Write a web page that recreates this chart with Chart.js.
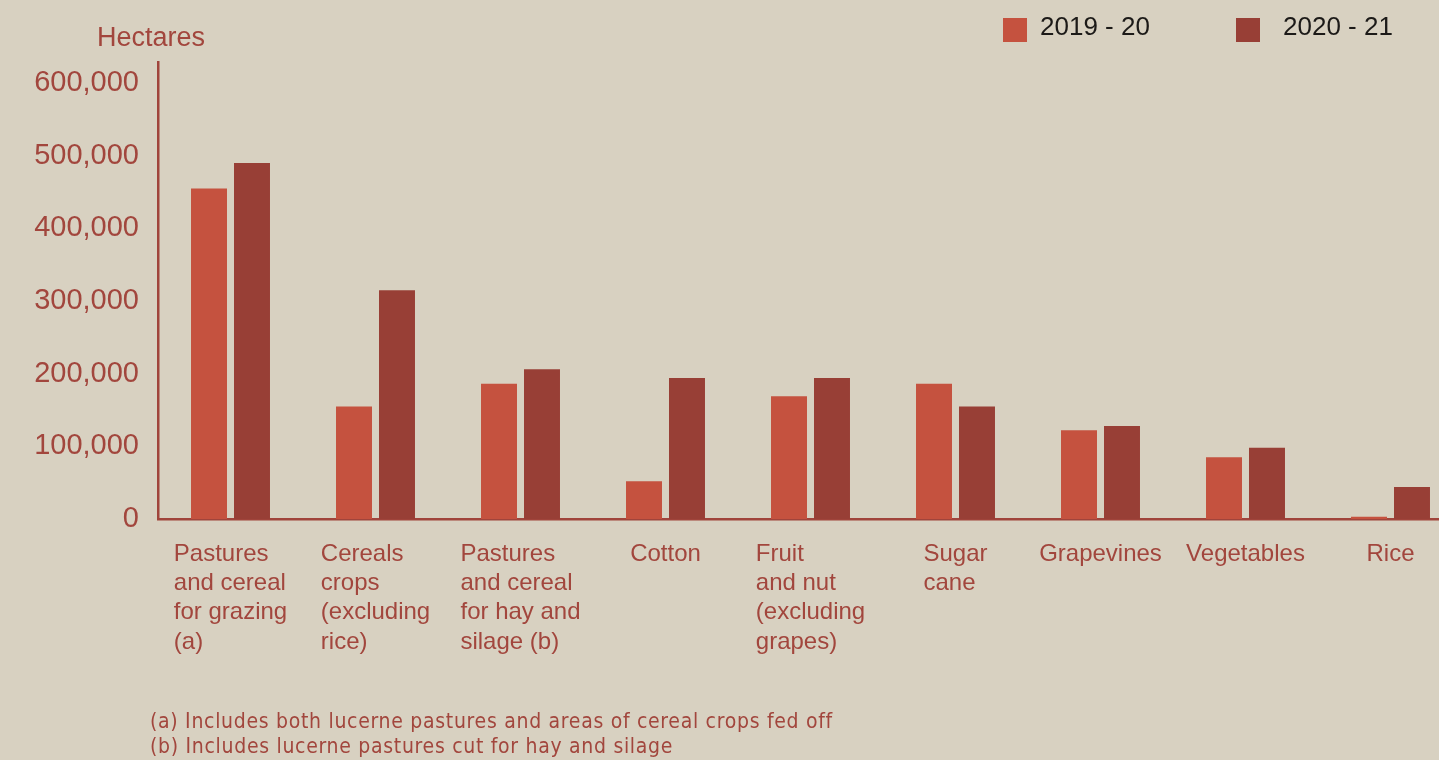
<!DOCTYPE html>
<html>
<head>
<meta charset="utf-8">
<title>Irrigated area by crop</title>
<script src="https://cdn.jsdelivr.net/npm/chart.js@4.4.1/dist/chart.umd.min.js"></script>
<style>
  html, body { margin: 0; padding: 0; background: #d8d1c1; overflow: hidden; }
  canvas { display: block; }
</style>
</head>
<body>
<canvas id="cropChart" width="1463" height="760"></canvas>
<script>
// categories, one array of lines per crop label
const categories = [
    ['Pastures', 'and cereal', 'for grazing', '(a)'],
    ['Cereals', 'crops', '(excluding', 'rice)'],
    ['Pastures', 'and cereal', 'for hay and', 'silage (b)'],
    ['Cotton'],
    ['Fruit', 'and nut', '(excluding', 'grapes)'],
    ['Sugar', 'cane'],
    ['Grapevines'],
    ['Vegetables'],
    ['Rice']
];
const seasons = ['2019 - 20', '2020 - 21'];
const area2019 = [455000, 155000, 186000, 52000, 169000, 186000, 122000, 85000, 3000];
const area2020 = [490000, 315000, 206000, 194000, 194000, 155000, 128000, 98000, 44000];
const yTicks = [0, 100000, 200000, 300000, 400000, 500000, 600000];
const footnotes = [
    '(a) Includes both lucerne pastures and areas of cereal crops fed off',
    '(b) Includes lucerne pastures cut for hay and silage'
];

const textColor = '#a2463d';
const fontFamily = "'Liberation Sans', Arial, sans-serif";

// extra text: axis unit, legend, wrapped crop names, footnotes
const overlayText = {
    id: 'overlayText',
    afterDraw(chart) {
        const c = chart.ctx;
        const xScale = chart.scales.x;
        c.save();

        c.fillStyle = textColor;
        c.font = `27px ${fontFamily}`;
        c.textBaseline = 'alphabetic';
        c.textAlign = 'left';
        c.fillText('Hectares', 97, 46);

        // crop names: left-aligned lines, block centred under each group
        c.font = `24px ${fontFamily}`;
        categories.forEach((lines, i) => {
            const cx = xScale.getPixelForTick(i);
            const w = Math.max(...lines.map(l => c.measureText(l).width));
            lines.forEach((line, k) => {
                c.fillText(line, cx - w / 2, 561 + k * 29.2);
            });
        });

        // legend
        const legendX = [1003, 1236];
        const textX = [1040, 1283];
        c.font = `26px ${fontFamily}`;
        c.textBaseline = 'middle';
        chart.data.datasets.forEach((ds, i) => {
            c.fillStyle = ds.backgroundColor;
            c.fillRect(legendX[i], 18, 24, 24);
            c.fillStyle = '#1c1a18';
            c.fillText(ds.label, textX[i], 28);
        });

        // footnotes
        c.fillStyle = textColor;
        c.font = `21px 'DejaVu Sans Condensed', ${fontFamily}`;
        c.letterSpacing = '0.7px';
        c.textBaseline = 'alphabetic';
        footnotes.forEach((t, k) => {
            c.fillText(t, 150, 728 + k * 25);
        });

        c.restore();
    }
};

const ctx = document.getElementById('cropChart').getContext('2d');
new Chart(ctx, {
    type: 'bar',
    data: {
        labels: categories.map(l => l.join(' ')),
        datasets: [{
            label: seasons[0],
            data: area2019,
            backgroundColor: '#c5523f'
        }, {
            label: seasons[1],
            data: area2020,
            backgroundColor: '#983f36'
        }]
    },
    options: {
        responsive: false,
        animation: false,
        categoryPercentage: 0.593,
        barPercentage: 0.837,
        layout: { padding: { top: 62, left: 0, right: 0, bottom: 0 } },
        plugins: {
            legend: { display: false },
            tooltip: { enabled: false }
        },
        scales: {
            x: {
                z: 1,
                offset: true,
                grid: { display: false },
                border: { color: '#a0443b', width: 2.5 },
                ticks: { display: false },
                afterFit(scale) { scale.height = 241; }
            },
            y: {
                z: 1,
                min: 0,
                max: 629000,
                grid: { display: false, drawTicks: false },
                border: { color: '#a0443b', width: 2.5 },
                afterBuildTicks(scale) {
                    scale.ticks = yTicks.map(v => ({ value: v }));
                },
                ticks: {
                    padding: 19,
                    color: textColor,
                    font: { family: fontFamily, size: 29 },
                    callback: v => v.toLocaleString('en-US')
                },
                afterFit(scale) { scale.width = 158; }
            }
        }
    },
    plugins: [overlayText]
});
</script>
</body>
</html>
